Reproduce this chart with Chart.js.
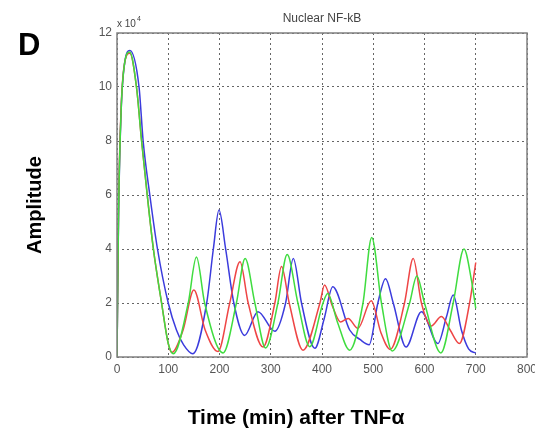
<!DOCTYPE html>
<html>
<head>
<meta charset="utf-8">
<script src="https://cdn.jsdelivr.net/npm/chart.js@4/dist/chart.umd.min.js"></script>
<style>
  html, body { margin: 0; padding: 0; background: #fff; }
  #wrap { width: 535px; height: 432px; }
</style>
</head>
<body>
<div id="wrap"><canvas id="myChart" width="535" height="432"></canvas></div>
<script>
// amplitudes are in units of 10^4, time in minutes
const xTicks = [0, 100, 200, 300, 400, 500, 600, 700, 800];
const yTicks = [0, 2, 4, 6, 8, 10, 12];

const greenT = [0, 3, 8, 15, 25, 38, 48, 59, 71, 87, 100, 110, 139, 155, 171, 207, 233, 250, 269, 290, 314, 332, 353, 376, 402, 411, 430, 454, 480, 497, 516, 537, 571, 585, 600, 632, 656, 677, 692, 700];
const greenY = [0, 5.3, 9.1, 10.9, 11.3, 10, 8, 6, 4, 2, 0.5, 0.12, 2.0, 3.7, 2.0, 0.15, 2.0, 3.65, 2.0, 0.33, 2.0, 3.8, 2.0, 0.38, 2.0, 2.35, 1.3, 0.25, 2.0, 4.43, 2.0, 0.22, 2.0, 3.0, 2.0, 0.15, 2.0, 4.0, 2.8, 1.8];

const redT = [0, 3, 8, 15, 25, 38, 48, 59, 71, 87, 100, 107, 129, 150, 172, 197, 220, 240, 256, 285, 308, 321, 336, 363, 396, 405, 420, 436, 451, 470, 496, 515, 533, 561, 578, 594, 613, 633, 650, 668, 688, 700];
const redY = [0, 5.5, 9.2, 10.9, 11.25, 10, 8, 6, 4, 2, 0.5, 0.17, 1.0, 2.48, 1.0, 0.2, 2.0, 3.53, 2.0, 0.37, 2.0, 3.35, 2.0, 0.25, 2.0, 2.67, 1.9, 1.3, 1.43, 1.06, 2.08, 0.9, 0.28, 2.0, 3.65, 2.0, 1.15, 1.5, 1.0, 0.5, 2.0, 3.5];

const blueT = [0, 3, 8, 15, 25, 43, 51, 64, 79, 100, 116, 130, 148, 175, 188, 199, 212, 228, 249, 275, 308, 329, 344, 360, 386, 404, 421, 454, 474, 492, 509, 524, 539, 564, 594, 626, 643, 656, 672, 686, 700];
const blueY = [0, 5.2, 9.1, 10.9, 11.35, 10, 8, 6, 4, 2, 1.0, 0.45, 0.12, 2.0, 4.0, 5.44, 4.0, 2.0, 0.8, 1.68, 0.95, 2.0, 3.65, 2.0, 0.32, 1.4, 2.6, 1.0, 0.65, 0.45, 2.0, 2.9, 2.0, 0.37, 1.68, 0.5, 1.5, 2.3, 1.0, 0.3, 0.15];

function toPoints(ts, ys) {
    return ts.map((t, i) => ({x: t, y: ys[i]}));
}

Chart.defaults.font.family = '"Liberation Sans", Arial, sans-serif';

// frame around the plot plus the loose labels of the figure
const figureText = {
    id: 'figureText',
    afterDatasetsDraw(chart) {
        const {ctx, chartArea} = chart;
        ctx.save();
        ctx.strokeStyle = '#808080';
        ctx.lineWidth = 1.5;
        ctx.strokeRect(chartArea.left, chartArea.top, chartArea.right - chartArea.left, chartArea.bottom - chartArea.top);
        ctx.restore();
    },
    afterDraw(chart) {
        const {ctx, chartArea} = chart;
        ctx.save();
        ctx.fillStyle = '#000';
        ctx.font = 'bold 31px "Liberation Sans", Arial, sans-serif';
        ctx.textAlign = 'left';
        ctx.textBaseline = 'alphabetic';
        ctx.fillText('D', 18, 55);

        ctx.font = 'bold 21px "Liberation Sans", Arial, sans-serif';
        ctx.textAlign = 'center';
        ctx.fillText('Time (min) after TNFα', 296, 424);

        ctx.save();
        ctx.translate(35, 205);
        ctx.rotate(-Math.PI / 2);
        ctx.font = 'bold 20px "Liberation Sans", Arial, sans-serif';
        ctx.textBaseline = 'middle';
        ctx.fillText('Amplitude', 0, 0);
        ctx.restore();

        ctx.fillStyle = '#444';
        ctx.font = '12px "Liberation Sans", Arial, sans-serif';
        ctx.textAlign = 'center';
        ctx.textBaseline = 'middle';
        ctx.fillText('Nuclear NF-kB', (chartArea.left + chartArea.right) / 2, 19);

        ctx.textAlign = 'left';
        ctx.textBaseline = 'alphabetic';
        ctx.font = '10px "Liberation Sans", Arial, sans-serif';
        const base = 'x 10';
        ctx.fillText(base, chartArea.left, 27);
        const w = ctx.measureText(base).width;
        ctx.font = '7px "Liberation Sans", Arial, sans-serif';
        ctx.fillText('4', chartArea.left + w + 1, 21);
        ctx.restore();
    }
};

const ctx = document.getElementById('myChart').getContext('2d');
new Chart(ctx, {
    type: 'line',
    data: {
        datasets: [
            {label: 'green', data: toPoints(greenT, greenY), borderColor: '#3fdc3f'},
            {label: 'red', data: toPoints(redT, redY), borderColor: '#ee4545'},
            {label: 'blue', data: toPoints(blueT, blueY), borderColor: '#3b3bdd'}
        ]
    },
    options: {
        responsive: false,
        animation: false,
        devicePixelRatio: 1,
        elements: {
            line: {borderWidth: 1.5, cubicInterpolationMode: 'monotone', fill: false},
            point: {radius: 0, hoverRadius: 0}
        },
        layout: {padding: {left: 0, right: 8, top: 33, bottom: 0}},
        plugins: {
            legend: {display: false},
            tooltip: {enabled: false}
        },
        scales: {
            x: {
                type: 'linear',
                min: 0,
                max: 800,
                afterBuildTicks: (s) => { s.ticks = xTicks.map(v => ({value: v})); },
                afterFit: (s) => { s.height = 75; s.paddingLeft = 0; s.paddingRight = 0; },
                ticks: {color: '#555', font: {size: 12}, padding: 5, maxRotation: 0, autoSkip: false},
                grid: {color: '#666', lineWidth: 1, drawTicks: false},
                border: {display: false, dash: [2, 3]}
            },
            y: {
                type: 'linear',
                min: 0,
                max: 12,
                afterBuildTicks: (s) => { s.ticks = yTicks.map(v => ({value: v})); },
                afterFit: (s) => { s.width = 117; s.paddingTop = 0; s.paddingBottom = 0; },
                ticks: {color: '#555', font: {size: 12}, padding: 5, autoSkip: false},
                grid: {color: '#666', lineWidth: 1, drawTicks: false},
                border: {display: false, dash: [2, 3]}
            }
        }
    },
    plugins: [figureText]
});
</script>
</body>
</html>
